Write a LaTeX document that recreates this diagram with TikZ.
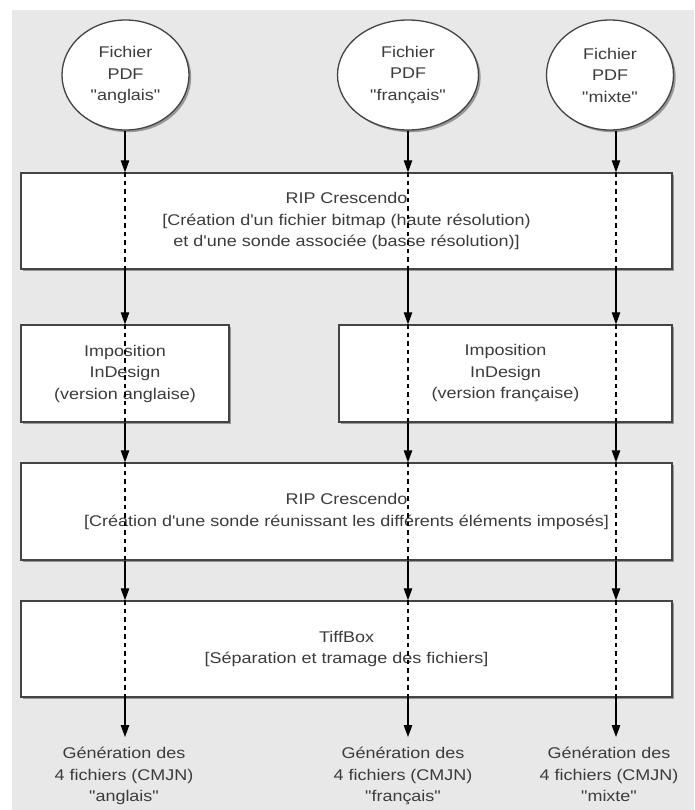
\documentclass[tikz,border=0pt]{standalone}
\usepackage{fontspec}
\newfontfamily\lsans{Liberation Sans}[FakeStretch=1.16]
\usetikzlibrary{arrows.meta,shadows,shapes.geometric}
\definecolor{bg}{HTML}{E8E8E8}
\definecolor{txt}{HTML}{3C3C3C}
\definecolor{bord}{HTML}{444444}
\begin{document}
\begin{tikzpicture}[x=1pt,y=-1pt,
  every node/.style={font=\lsans\fontsize{15.5}{21.5}\selectfont, text=txt, align=center},
  shad/.style={drop shadow={shadow xshift=2.2pt, shadow yshift=-2.2pt, fill=black, opacity=0.35}},
  stepbox/.style={draw=bord, line width=1.4pt, fill=white, inner sep=0pt, shad,
    minimum width=#1, minimum height=96pt},
  filecirc/.style={ellipse, draw=bord, line width=1.3pt, fill=white, inner sep=0pt, shad,
    minimum width=#1, minimum height=110pt},
  outlbl/.style={anchor=north, inner sep=0pt},
  arr/.style={-{Triangle[length=12pt,width=8.5pt]}, line width=1.1pt, black},
  dsh/.style={line width=1.1pt, black, dash pattern=on 4.5pt off 4pt}
]
\useasboundingbox (0,0) rectangle (694,810);
\fill[bg] (12,10) rectangle (694,810);

% columns
\coordinate (c1) at (125,0);
\coordinate (c2) at (408,0);
\coordinate (c3) at (616,0);

% input files
\node[filecirc=127pt] (fa) at (125.5,75) {Fichier\\PDF\\"anglais"};
\node[filecirc=141pt] (ff) at (408,75) {Fichier\\PDF\\"français"};
\node[filecirc=127pt] (fm) at (610,75) {Fichier\\PDF\\"mixte"};

% boxes
\node[stepbox=651pt] (b1) at (346.5,221) {RIP Crescendo\\{[}Création d'un fichier bitmap (haute résolution)\\et d'une sonde associée (basse résolution){]}};
\node[stepbox=208pt, minimum height=97pt] (b2l) at (125,373.5) {Imposition\\InDesign\\(version anglaise)};
\node[stepbox=333pt, minimum height=97pt] (b2r) at (505.5,373.5) {Imposition\\InDesign\\(version française)};
\node[stepbox=651pt, minimum height=97pt] (b3) at (346.5,511.5) {RIP Crescendo\\{[}Création d'une sonde réunissant les différents éléments imposés{]}};
\node[stepbox=651pt] (b4) at (346.5,649) {TiffBox\\{[}Séparation et tramage des fichiers{]}};

% outputs
\node[outlbl] (ga) at (124,747) {Génération des\\4 fichiers (CMJN)\\"anglais"};
\node[outlbl] (gf) at (403,747) {Génération des\\4 fichiers (CMJN)\\"français"};
\node[outlbl] (gm) at (609,747) {Génération des\\4 fichiers (CMJN)\\"mixte"};

% arrows
\draw[arr] (fa.south -| c1) -- (b1.north -| c1);
\draw[arr] (ff.south -| c2) -- (b1.north -| c2);
\draw[arr] (fm.south -| c3) -- (b1.north -| c3);

\draw[arr] (b1.south -| c1) -- (b2l.north -| c1);
\draw[arr] (b1.south -| c2) -- (b2r.north -| c2);
\draw[arr] (b1.south -| c3) -- (b2r.north -| c3);

\draw[arr] (b2l.south -| c1) -- (b3.north -| c1);
\draw[arr] (b2r.south -| c2) -- (b3.north -| c2);
\draw[arr] (b2r.south -| c3) -- (b3.north -| c3);

\draw[arr] (b3.south -| c1) -- (b4.north -| c1);
\draw[arr] (b3.south -| c2) -- (b4.north -| c2);
\draw[arr] (b3.south -| c3) -- (b4.north -| c3);

\draw[arr, shorten >=10pt] (b4.south -| c1) -- (ga.north -| c1);
\draw[arr, shorten >=10pt] (b4.south -| c2) -- (gf.north -| c2);
\draw[arr, shorten >=10pt] (b4.south -| c3) -- (gm.north -| c3);

% dashed pass-through lines
\foreach \b in {b1,b3,b4}{
  \draw[dsh] (\b.north -| c1) -- (\b.south -| c1);
  \draw[dsh] (\b.north -| c2) -- (\b.south -| c2);
  \draw[dsh] (\b.north -| c3) -- (\b.south -| c3);
}
\draw[dsh] (b2l.north -| c1) -- (b2l.south -| c1);
\draw[dsh] (b2r.north -| c2) -- (b2r.south -| c2);
\draw[dsh] (b2r.north -| c3) -- (b2r.south -| c3);
\end{tikzpicture}
\end{document}
